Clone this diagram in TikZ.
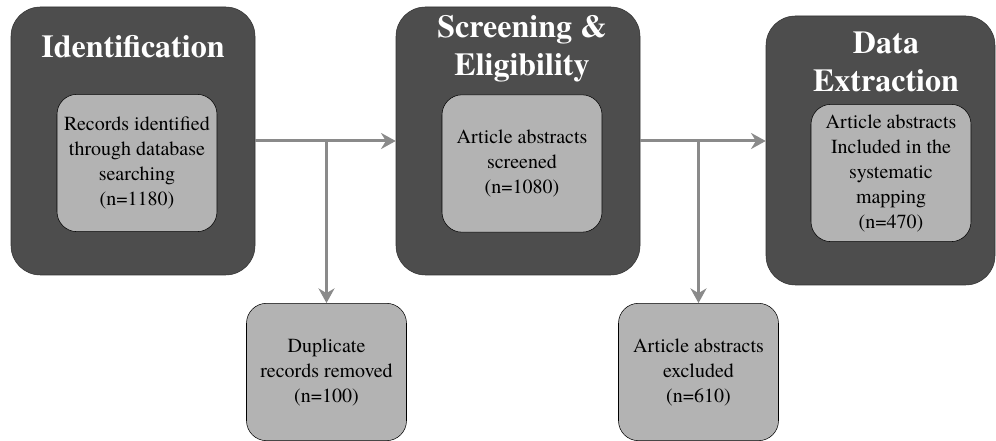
\documentclass[tikz,border=0pt]{standalone}
\usepackage{fontspec}
\IfFontExistsTF{texgyretermes-regular.otf}
  {\setmainfont{texgyretermes}[Extension=.otf, UprightFont=*-regular,
     BoldFont=*-bold, ItalicFont=*-italic, BoldItalicFont=*-bolditalic]}
  {}
\usetikzlibrary{arrows.meta,positioning}
\definecolor{stagegray}{HTML}{4D4D4D}
\definecolor{boxgray}{HTML}{B3B3B3}
\definecolor{flowgray}{HTML}{8A8A8A}

\begin{document}
\begin{tikzpicture}[
  x=0.75pt, y=-0.75pt,
  stage/.style={draw=black!80, fill=stagegray, rounded corners=22pt,
                minimum width=183pt, minimum height=201pt},
  title/.style={text=white, align=center,
                font=\rmfamily\fontsize{24}{28.5}\selectfont\bfseries},
  box/.style={draw, fill=boxgray, rounded corners=15pt, align=center,
              inner sep=2pt, minimum width=120pt, minimum height=103pt,
              font=\rmfamily\fontsize{15}{18.75}\selectfont},
  flow/.style={-{Stealth[length=11pt, width=12pt]}, line width=2.25pt,
               flowgray}]
\useasboundingbox (0,0) rectangle (996,441);
\node[stage] (ident) at (133,141) {};
\node[stage] (screen) at (518,141) {};
\node[stage, minimum width=171.75pt, minimum height=201.75pt] (extract)
  at (880.5,150.5) {};
\node[title] (identt) at (133,47) {Identification};
\node[title] (screent) at (522,49) {Screening \&\\Eligibility};
\node[title] (extractt) at (886,62) {Data\\Extraction};
\node[box] (records) at (137,163) {Records identified\\through database\\
  searching\\(n=1180)};
\node[box] (screened) at (522,163.5) {Article abstracts\\screened\\
  (n=1080)};
\node[box] (included) at (891,173) {Article abstracts\\Included in the\\
  systematic\\mapping\\(n=470)};
\node[box] (duplicates) at (326.5,372) {Duplicate\\records removed\\
  (n=100)};
\node[box] (excluded) at (698.5,372) {Article abstracts\\excluded\\
  (n=610)};
\draw[flow] (ident) -- (screen);
\draw[flow] (duplicates.north |- ident.east) -- (duplicates);
\draw[flow] (screen.east) -- (extract.west |- screen.east);
\draw[flow] (excluded.north |- screen.east) -- (excluded);
\end{tikzpicture}
\end{document}
